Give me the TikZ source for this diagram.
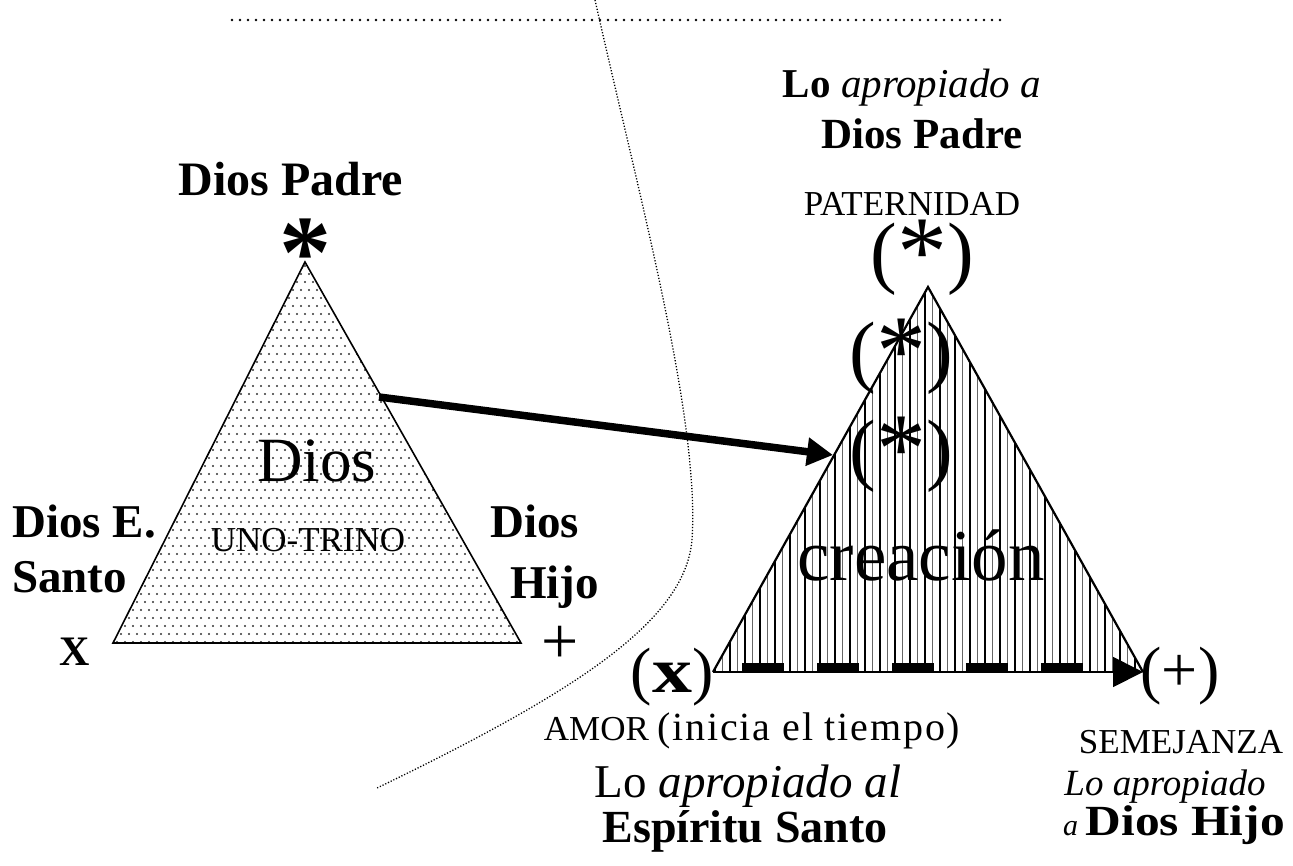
\documentclass[tikz,border=0pt]{standalone}
\usepackage{fontspec}
\setmainfont{Liberation Serif}
\usetikzlibrary{arrows.meta}
\newcommand\fsz[1]{\fontsize{#1pt}{#1pt}\selectfont}
\newcommand\bigast{\raisebox{-7pt}{\fsz{100}*}}
\begin{document}
\begin{tikzpicture}[x=1pt,y=-1pt,
  txt/.style={inner sep=0pt, anchor=base},
  dotc/.style={fill=black!80},
  hatchk/.style={draw=black, line width=1.4pt},
  hatchg/.style={draw=black!60, line width=1.4pt},
  edge/.style={draw=black, line width=1.6pt, line join=miter},
  redge/.style={draw=black, line width=2.2pt, line join=miter},
  bigarrow/.style={line width=7.5pt, -{Triangle[length=26pt,width=27pt]}},
  timearrow/.style={line width=1.8pt, -{Triangle[length=30pt,width=30pt]}},
  finedots/.style={line width=1.3pt, dash pattern=on 1.2pt off 1.8pt}]
\useasboundingbox (0,0) rectangle (1293,865);
% vertices
\coordinate (LA) at (305,262);
\coordinate (LB) at (113,643);
\coordinate (LC) at (521,643);
\coordinate (RA) at (928,287);
\coordinate (RB) at (713,672);
\coordinate (RC) at (1143,672);
% separators
\foreach \d in {0,...,96}{
  \fill ({232+8*\d},20) circle (1.4pt);
}
\draw[finedots] (595,0) .. controls (640,200) and (700,420) .. (692,540)
  .. controls (685,620) and (580,690) .. (377,788);
% left triangle dotted fill
\begin{scope}
\clip (LA) -- (LB) -- (LC) -- cycle;
\foreach \j in {0,...,48}{
  \foreach \i in {0,...,51}{
    \fill[dotc] ({113+8*\i+4*mod(\j,2)},{266+8*\j}) circle (1.05pt);
  }
}
\end{scope}
\draw[edge] (LA) -- (LB) -- (LC) -- cycle;
% right triangle hatching
\begin{scope}
\clip (RA) -- (RB) -- (RC) -- cycle;
\foreach \i in {0,...,29}{
  \draw[hatchk] ({715+15*\i},280) -- ++(0,400);
  \draw[hatchg] ({722.5+15*\i},280) -- ++(0,400);
}
\end{scope}
\foreach \k in {0,...,4}{
  \fill ({742+74.75*\k},663) rectangle ++(42,9);
}
\draw[redge] (RB) -- (RA) -- (RC);
\draw[timearrow] (RB) -- (RC);
% main arrow
\coordinate (a1) at (379,397);
\coordinate (a2) at (833,455);
\draw[bigarrow] (a1) -- (a2);
% left labels
\node[txt] (lpadre) at (291,195) {\fsz{48}\bfseries Dios Padre};
\node[txt] (last) at (305,287) {\fsz{104}\bfseries *};
\node[txt] (ldios) at (317,481) {\fsz{63}Dios};
\node[txt] (luno) at (308,551) {\fsz{35}UNO-TRINO};
\node[txt, anchor=base west] (lesp1) at (12,537) {\fsz{47}\bfseries Dios E.};
\node[txt, anchor=base west] (lesp2) at (12,592) {\fsz{47}\bfseries Santo};
\node[txt, anchor=base west] (lhijo1) at (490,537) {\fsz{47}\bfseries Dios};
\node[txt, anchor=base west] (lhijo2) at (510,598) {\fsz{47}\bfseries Hijo};
\node[txt] (lx) at (75,665) {\fsz{42}\bfseries X};
\node[txt] (lplus) at (560,663) {\fsz{66}+};
% right labels
\node[txt] (rlo) at (912,97) {\fsz{41}\textbf{Lo} \textit{apropiado a}};
\node[txt] (rpadre) at (922,148) {\fsz{43}\bfseries Dios Padre};
\node[txt] (rpat) at (912,215) {\fsz{35}PATERNIDAD};
\node[txt] (rs1) at (922,278) {\fsz{80}(\bigast)};
\node[txt] (rs2) at (901,377) {\fsz{80}(\bigast)};
\node[txt] (rs3) at (901,475) {\fsz{80}(\bigast)};
\node[txt] (rcre) at (921,580) {\fsz{73}creación};
\node[txt] (rx) at (672,692) {\fsz{64}(\scalebox{1.25}[1]{\textbf{x}})};
\node[txt] (rplus) at (1180,691) {\fsz{64}(+)};
\node[txt] (ramor) at (752,740) {\fsz{35}AMOR \fsz{40}{\addfontfeature{LetterSpace=4.5}(inicia el tiempo)}};
\node[txt] (rlo2) at (748,797) {\fsz{47}Lo \textit{apropiado al}};
\node[txt] (resp) at (745,842) {\fsz{46}\bfseries Espíritu Santo};
\node[txt] (rsem) at (1181,753) {\fsz{35}SEMEJANZA};
\node[txt] (rlo3) at (1165,795) {\fsz{37}\itshape Lo apropiado};
\node[txt, anchor=base west] (rhijo) at (1063,835) {\fsz{30}\textit{a} \scalebox{1.15}[1]{\fsz{43}\bfseries Dios Hijo}};
\end{tikzpicture}
\end{document}
